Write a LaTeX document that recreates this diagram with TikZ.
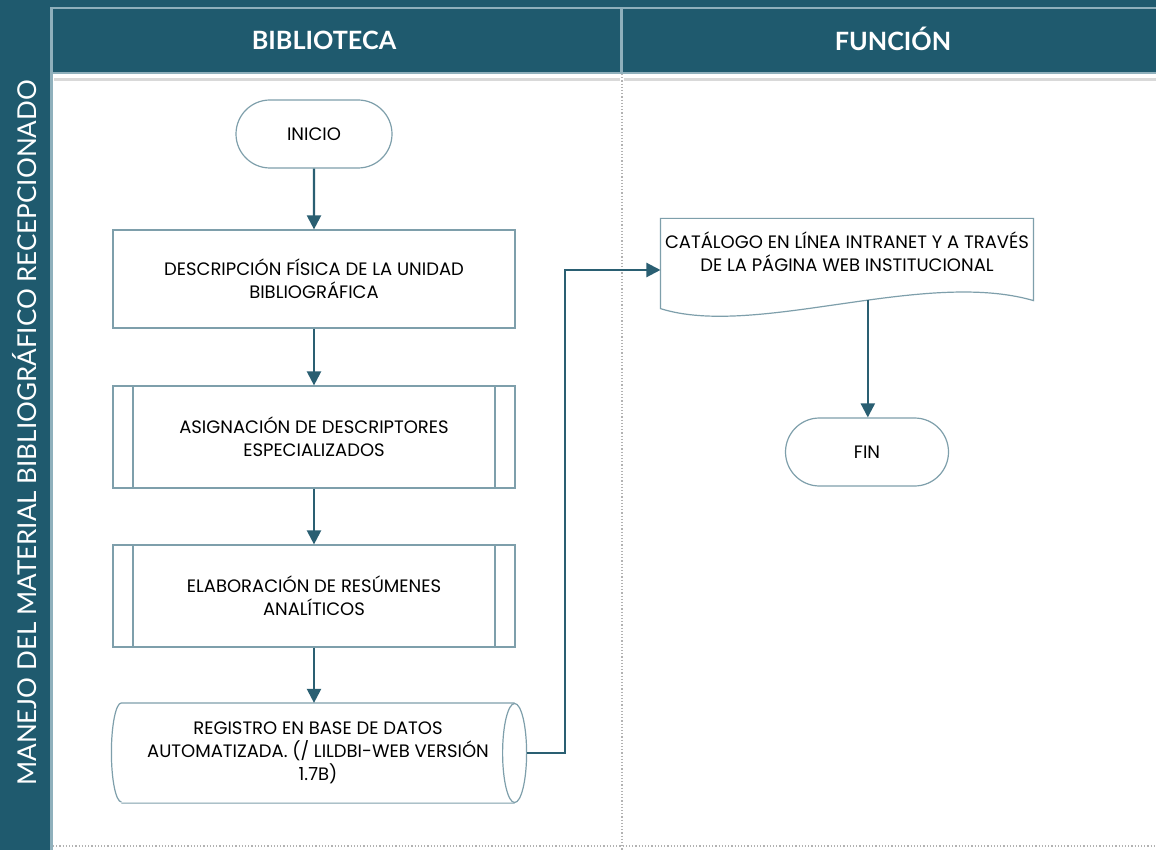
\documentclass[tikz,border=0pt]{standalone}
\usepackage{fontspec}
\setmainfont{Poppins}
\newfontfamily\headfont{Lato}
\usetikzlibrary{arrows.meta,shapes.misc}
\definecolor{lanecolor}{HTML}{1F5A6E}
\definecolor{lanelight}{HTML}{8FB0BC}
\definecolor{flowcolor}{HTML}{2A5F72}
\definecolor{edgecolor}{HTML}{7E9FAB}

\begin{document}
\begin{tikzpicture}[x=0.5pt,y=-0.5pt,>={Triangle[width=7pt,length=7pt]},
  flow/.style={->,draw=flowcolor,line width=1.1pt},
  box/.style={draw=edgecolor,line width=0.6pt,fill=white,align=center,
    font=\fontsize{9}{11.5}\selectfont,minimum width=201pt,minimum height=49pt,inner sep=2pt},
  term/.style={box,rounded rectangle,minimum width=82pt,minimum height=34pt},
  subproc/.style={box,minimum height=51pt,path picture={
    \draw[edgecolor,line width=0.6pt]
      ([xshift=10pt]path picture bounding box.north west) -- ([xshift=10pt]path picture bounding box.south west)
      ([xshift=-10pt]path picture bounding box.north east) -- ([xshift=-10pt]path picture bounding box.south east);}},
  bare/.style={box,draw=none,fill=none},
  outline/.style={draw=edgecolor,line width=0.6pt},
  headtext/.style={text=white,font=\headfont\bfseries\fontsize{12.6}{14}\selectfont},
  divider/.style={gray!60,densely dotted,line width=0.6pt},
]
\useasboundingbox (0,0) rectangle (1156,850);
\fill[white] (0,0) rectangle (1156,850);
% franjas de carril
\fill[lanelight] (0,0) rectangle (1156,74);
\fill[lanelight] (0,0) rectangle (53,850);
\fill[lanecolor] (0,0) rectangle (1156,7);
\fill[lanecolor] (0,7) rectangle (50,850);
\fill[lanecolor] (53,9) rectangle (620,72);
\fill[lanecolor] (623,9) rectangle (1156,72);
\node[headtext] (hbib) at (324,40) {BIBLIOTECA};
\node[headtext] (hfun) at (893,39) {FUNCIÓN};
\node[rotate=90,text=white,font=\headfont\fontsize{13}{15}\selectfont] (proc) at (25,433)
  {MANEJO DEL MATERIAL BIBLIOGRÁFICO RECEPCIONADO};
% lineas de borde
\draw[gray!30,line width=1.5pt] (54,80) -- (620,80) (624,80) -- (1156,80);
\draw[divider] (622,74) -- (622,850);
\draw[divider] (53,846) -- (1156,846);
% carril biblioteca
\node[term] (inicio) at (314,134) {INICIO};
\node[box] (desc) at (314,279) {DESCRIPCIÓN FÍSICA DE LA UNIDAD\\BIBLIOGRÁFICA};
\node[subproc] (asig) at (314,437) {ASIGNACIÓN DE DESCRIPTORES\\ESPECIALIZADOS};
\node[subproc] (elab) at (314,596) {ELABORACIÓN DE RESÚMENES\\ANALÍTICOS};
\node[bare,minimum width=196pt,minimum height=49.5pt] (regis) at (318,753)
  {REGISTRO EN BASE DE DATOS\\AUTOMATIZADA. (/ LILDBI-WEB VERSIÓN\\1.7B)};
\draw[outline] (regis.south west) -- (regis.south east)
  (regis.north east) -- (regis.north west)
  arc[start angle=90,end angle=270,x radius=5pt,y radius=24.75pt];
\draw[outline] (regis.east) ellipse[x radius=6pt,y radius=24.75pt];
% carril funcion
\node[bare,minimum width=182.5pt,minimum height=33pt] (cat) at (847,252)
  {CATÁLOGO EN LÍNEA INTRANET Y A TRAVÉS\\DE LA PÁGINA WEB INSTITUCIONAL};
\draw[outline] (cat.north east) -- (cat.north west) -- ([yshift=-11.5pt]cat.south west)
  .. controls +(95,30) and +(-110,-32) .. coordinate[pos=0.565] (catout) ([yshift=-7.5pt]cat.south east) -- cycle;
\node[term,minimum width=85.5pt] (fin) at (867,452) {FIN};
% conectores
\draw[flow] (inicio) -- (desc);
\draw[flow] (desc) -- (asig);
\draw[flow] (asig) -- (elab);
\draw[flow] (elab) -- (elab |- regis.north);
\draw[flow] ([xshift=6pt]regis.east) -- ++(38,0) |- ([yshift=-9pt]cat.west);
\draw[flow] (catout) -- (catout |- fin.north);
\end{tikzpicture}
\end{document}
